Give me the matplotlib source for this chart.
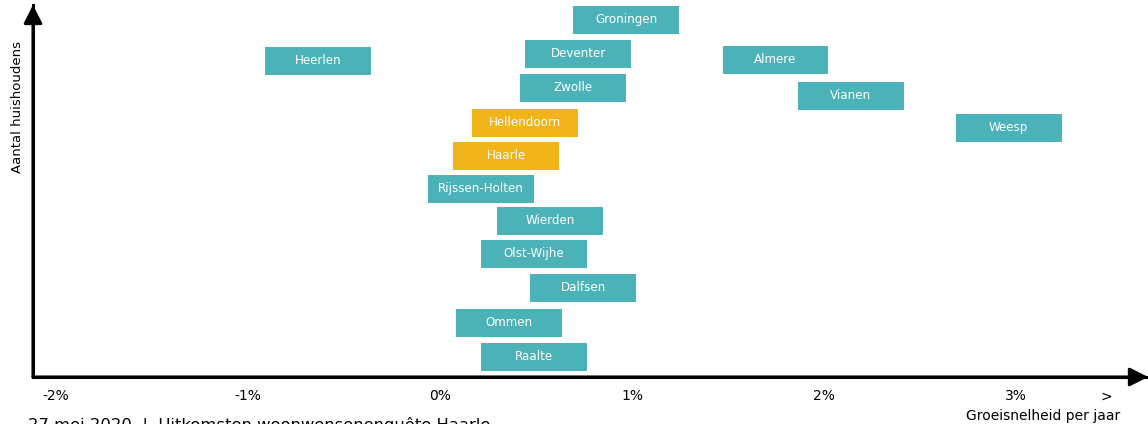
import matplotlib
matplotlib.use("Agg")
import matplotlib.pyplot as plt

# gemeenten: groeisnelheid (% per jaar) en relatieve omvang (aantal huishoudens, index)
gemeenten = [
    "Groningen", "Deventer", "Heerlen", "Almere", "Zwolle", "Vianen",
    "Hellendoorn", "Weesp", "Haarle", "Rijssen-Holten", "Wierden",
    "Olst-Wijhe", "Dalfsen", "Ommen", "Raalte",
]
groei = [0.97, 0.72, -0.636, 1.748, 0.694, 2.139,
         0.443, 2.963, 0.344, 0.214, 0.574,
         0.49, 0.746, 0.36, 0.49]
huishoudens = [357.2, 323.2, 316.2, 317.2, 289.2, 281.2,
               254.2, 249.2, 221.2, 188.2, 156.2,
               123.2, 89.2, 54.2, 20.2]
uitgelicht = ["Hellendoorn", "Haarle"]

tick_pos = [-2, -1, 0, 1, 2, 3, 3.47]
tick_lbl = ["-2%", "-1%", "0%", "1%", "2%", "3%", ">"]

TEAL = "#4BB2B8"
GEEL = "#F0B41A"
box_w = 0.552
box_h = 27.7

plt.rcParams["font.family"] = ["DejaVu Sans"]

fig = plt.figure(figsize=(11.48, 4.24), dpi=100)
ax = fig.add_axes([33 / 1148, 47 / 424, 1115 / 1148, 372 / 424])
ax.set_xlim(-2.121, 3.689)
ax.set_ylim(0, 372)

kleuren = [GEEL if g in uitgelicht else TEAL for g in gemeenten]
ax.barh(huishoudens, [box_w] * len(groei),
        left=[x - box_w / 2 for x in groei],
        height=box_h, color=kleuren, linewidth=0, zorder=2)
for naam, x, y in zip(gemeenten, groei, huishoudens):
    ax.text(x, y, naam, ha="center", va="center", color="white",
            fontsize=8.6, zorder=3)

for s in ["top", "right"]:
    ax.spines[s].set_visible(False)
for s in ["left", "bottom"]:
    ax.spines[s].set_linewidth(2.2)

pijl = dict(arrowstyle="-|>,head_length=0.55,head_width=0.28", lw=2.2,
            color="black", mutation_scale=20, shrinkA=0, shrinkB=0)
ax.annotate("", xy=(0, 1), xytext=(0, 0), xycoords="axes fraction",
            arrowprops=pijl, annotation_clip=False)
ax.annotate("", xy=(1, 0), xytext=(0, 0), xycoords="axes fraction",
            arrowprops=pijl, annotation_clip=False)

ax.set_yticks([])
ax.set_xticks(tick_pos)
ax.set_xticklabels(tick_lbl, fontsize=10)
ax.tick_params(axis="x", length=0, pad=9)

fig.text(18 / 1148, 1 - 107 / 424, "Aantal huishoudens", rotation=90,
         ha="center", va="center", fontsize=9.5)
fig.text(1043 / 1148, 1 - 416 / 424, "Groeisnelheid per jaar",
         ha="center", va="center", fontsize=10)
fig.text(28 / 1148, 1 - 430 / 424, "27 mei 2020  |  Uitkomsten woonwensenenquête Haarle",
         ha="left", va="baseline", fontsize=11.8)

fig.savefig("out.png", dpi=100)
